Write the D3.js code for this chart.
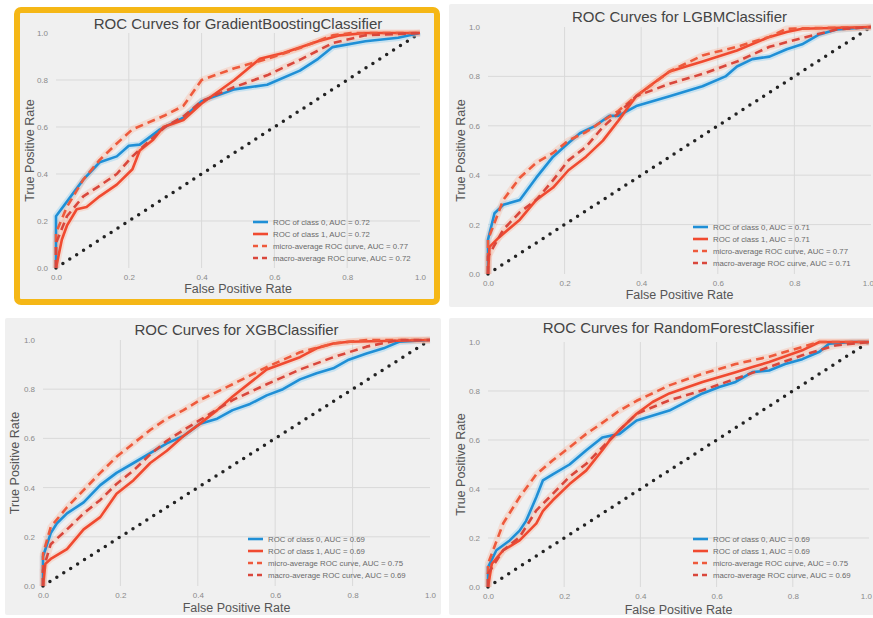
<!DOCTYPE html>
<html>
<head>
<meta charset="utf-8">
<script src="https://cdn.jsdelivr.net/npm/d3@7"></script>
<style>
  body { margin: 0; background: #fff; }
  svg { display: block; font-family: "Liberation Sans", Arial, sans-serif; }
</style>
</head>
<body>
<div id="chart"></div>
<script>
// tick labels shared by all four plots
var ticks = [0, 0.2, 0.4, 0.6, 0.8, 1.0];

// [false positive rate, true positive rate]
var gbClass0 = [[0,0],[0,0.22],[0.075,0.376],[0.12,0.45],[0.167,0.475],[0.2,0.52],[0.23,0.525],[0.286,0.59],[0.35,0.64],[0.4,0.71],[0.49,0.76],[0.58,0.78],[0.67,0.84],[0.72,0.89],[0.76,0.94],[0.85,0.965],[0.94,0.98],[1,1]];
var gbClass1 = [[0,0],[0.016,0.12],[0.03,0.18],[0.057,0.25],[0.084,0.26],[0.12,0.305],[0.167,0.355],[0.21,0.42],[0.23,0.5],[0.267,0.546],[0.295,0.6],[0.35,0.63],[0.4,0.7],[0.49,0.8],[0.56,0.89],[0.625,0.915],[0.72,0.965],[0.78,0.99],[0.85,1],[1,1]];
var gbMicro = [[0,0],[0,0.15],[0.03,0.26],[0.075,0.376],[0.12,0.46],[0.167,0.53],[0.21,0.59],[0.3,0.65],[0.35,0.69],[0.4,0.8],[0.49,0.85],[0.58,0.89],[0.67,0.936],[0.76,0.99],[0.81,1],[1,1]];
var gbMacro = [[0,0],[0,0.106],[0.03,0.22],[0.075,0.305],[0.12,0.35],[0.167,0.4],[0.21,0.475],[0.26,0.546],[0.3,0.6],[0.35,0.645],[0.4,0.71],[0.49,0.77],[0.58,0.82],[0.67,0.886],[0.76,0.957],[0.85,0.99],[1,1]];

var lgClass0 = [[0,0],[0,0.139],[0.017,0.246],[0.04,0.28],[0.083,0.3],[0.126,0.39],[0.17,0.475],[0.21,0.53],[0.24,0.57],[0.28,0.6],[0.317,0.64],[0.34,0.64],[0.387,0.68],[0.474,0.72],[0.56,0.76],[0.62,0.8],[0.65,0.84],[0.69,0.87],[0.735,0.88],[0.78,0.91],[0.82,0.93],[0.865,0.97],[0.91,0.99],[1,1]];
var lgClass1 = [[0,0],[0.004,0.11],[0.03,0.15],[0.083,0.22],[0.126,0.3],[0.17,0.35],[0.21,0.42],[0.256,0.475],[0.3,0.54],[0.34,0.62],[0.387,0.72],[0.43,0.77],[0.474,0.82],[0.56,0.86],[0.65,0.905],[0.735,0.96],[0.78,0.98],[0.82,0.993],[1,1]];
var lgMicro = [[0,0],[0,0.139],[0.04,0.3],[0.083,0.39],[0.126,0.45],[0.17,0.49],[0.21,0.54],[0.256,0.575],[0.3,0.62],[0.34,0.66],[0.387,0.72],[0.474,0.82],[0.56,0.885],[0.65,0.92],[0.735,0.96],[0.78,0.993],[1,1]];
var lgMacro = [[0,0],[0,0.07],[0.04,0.18],[0.083,0.25],[0.126,0.3],[0.17,0.38],[0.21,0.46],[0.256,0.515],[0.3,0.595],[0.34,0.65],[0.387,0.72],[0.474,0.77],[0.56,0.81],[0.65,0.86],[0.735,0.92],[0.82,0.955],[0.91,0.99],[1,1]];

var xgClass0 = [[0,0],[0,0.12],[0.02,0.215],[0.036,0.255],[0.062,0.295],[0.105,0.34],[0.148,0.41],[0.19,0.46],[0.234,0.5],[0.277,0.54],[0.32,0.58],[0.363,0.61],[0.406,0.66],[0.45,0.68],[0.49,0.715],[0.535,0.74],[0.578,0.775],[0.62,0.8],[0.664,0.84],[0.707,0.865],[0.75,0.885],[0.79,0.92],[0.836,0.945],[0.88,0.966],[0.92,0.993],[1,1]];
var xgClass1 = [[0,0],[0.006,0.09],[0.02,0.11],[0.062,0.15],[0.105,0.23],[0.148,0.28],[0.19,0.375],[0.234,0.43],[0.277,0.5],[0.32,0.55],[0.363,0.61],[0.406,0.66],[0.45,0.715],[0.49,0.77],[0.578,0.88],[0.664,0.93],[0.707,0.966],[0.75,0.986],[0.79,0.993],[1,1]];
var xgMicro = [[0,0],[0,0.13],[0.02,0.24],[0.062,0.32],[0.105,0.39],[0.148,0.46],[0.19,0.525],[0.234,0.58],[0.277,0.634],[0.32,0.68],[0.363,0.715],[0.406,0.756],[0.49,0.82],[0.578,0.89],[0.664,0.95],[0.75,0.986],[0.836,1],[1,1]];
var xgMacro = [[0,0],[0,0.065],[0.02,0.17],[0.062,0.23],[0.105,0.295],[0.148,0.35],[0.19,0.415],[0.234,0.47],[0.277,0.535],[0.32,0.59],[0.363,0.634],[0.406,0.675],[0.49,0.756],[0.578,0.82],[0.664,0.88],[0.75,0.93],[0.836,0.973],[0.92,1],[1,1]];

var rfClass0 = [[0,0],[0,0.08],[0.022,0.15],[0.057,0.19],[0.083,0.23],[0.1,0.27],[0.127,0.367],[0.144,0.435],[0.17,0.46],[0.214,0.5],[0.258,0.558],[0.3,0.61],[0.345,0.625],[0.39,0.68],[0.476,0.72],[0.563,0.79],[0.607,0.816],[0.65,0.837],[0.694,0.877],[0.738,0.884],[0.78,0.91],[0.825,0.93],[0.87,0.96],[0.895,0.993],[0.956,1],[1,1]];
var rfClass1 = [[0,0],[0.01,0.095],[0.04,0.15],[0.083,0.19],[0.127,0.26],[0.144,0.31],[0.17,0.354],[0.214,0.42],[0.258,0.476],[0.3,0.558],[0.32,0.6],[0.345,0.64],[0.39,0.707],[0.432,0.755],[0.476,0.79],[0.563,0.837],[0.65,0.877],[0.694,0.898],[0.738,0.918],[0.825,0.966],[0.87,1],[1,1]];
var rfMicro = [[0,0],[0,0.095],[0.04,0.26],[0.083,0.367],[0.127,0.46],[0.17,0.517],[0.214,0.57],[0.258,0.625],[0.3,0.67],[0.345,0.72],[0.39,0.76],[0.476,0.823],[0.563,0.87],[0.65,0.91],[0.738,0.94],[0.825,0.98],[0.87,1],[1,1]];
var rfMacro = [[0,0],[0,0.054],[0.04,0.15],[0.083,0.204],[0.127,0.313],[0.17,0.38],[0.214,0.45],[0.258,0.503],[0.3,0.57],[0.345,0.64],[0.39,0.707],[0.476,0.762],[0.563,0.803],[0.65,0.85],[0.738,0.898],[0.825,0.946],[0.912,0.986],[1,1]];

var models = ["GradientBoostingClassifier", "LGBMClassifier", "XGBClassifier", "RandomForestClassifier"];
var aucClass0 = ["0.72", "0.71", "0.69", "0.69"];
var aucClass1 = ["0.72", "0.71", "0.69", "0.69"];
var aucMicro = ["0.77", "0.77", "0.75", "0.75"];
var aucMacro = ["0.72", "0.71", "0.69", "0.69"];
var curves = [
  [gbClass0, gbClass1, gbMicro, gbMacro],
  [lgClass0, lgClass1, lgMicro, lgMacro],
  [xgClass0, xgClass1, xgMicro, xgMacro],
  [rfClass0, rfClass1, rfMicro, rfMacro]
];

// layout of each panel (frame + plot area)
var layout = [
  { bx: 17, by: 10, bw: 420, bh: 292, x0: 56, x1: 420, y0: 268, y1: 33, ty: 29, lx: 30, ly: 293, legX: 253, legY: 222, border: true },
  { bx: 449, by: 4, bw: 430, bh: 303, x0: 488, x1: 871, y0: 274, y1: 27, ty: 22, lx: 461, ly: 299, legX: 693, legY: 227 },
  { bx: 5, by: 318, bw: 436, bh: 297, x0: 43, x1: 430, y0: 586, y1: 340, ty: 335, lx: 15, ly: 612, legX: 248, legY: 539 },
  { bx: 449, by: 318, bw: 430, bh: 297, x0: 488, x1: 869, y0: 587, y1: 342, ty: 333, lx: 461, ly: 614, legX: 693, legY: 539 }
];

var styles = [
  { color: "#1f8fd6", dash: null, w: 2.6 },
  { color: "#f04a30", dash: null, w: 2.6 },
  { color: "#ee5a3c", dash: "8,5", w: 2.6 },
  { color: "#d9473c", dash: "8,5", w: 2.6 }
];

var svg = d3.select("#chart").append("svg")
  .attr("width", 873)
  .attr("height", 618);

models.forEach(function(name, i) {
  var L = layout[i];
  var g = svg.append("g");

  g.append("rect")
    .attr("x", L.bx).attr("y", L.by)
    .attr("width", L.bw).attr("height", L.bh)
    .attr("rx", L.border ? 4 : 2)
    .attr("fill", "#f0f0f0")
    .attr("stroke", L.border ? "#f5b716" : "none")
    .attr("stroke-width", L.border ? 6 : 0);

  var x = d3.scaleLinear().domain([0, 1]).range([L.x0, L.x1]);
  var y = d3.scaleLinear().domain([0, 1]).range([L.y0, L.y1]);

  // grid
  g.append("g").selectAll("line")
    .data(ticks.slice(1, 5))
    .join("line")
    .attr("x1", function(d) { return x(d); }).attr("x2", function(d) { return x(d); })
    .attr("y1", y(1)).attr("y2", y(0))
    .attr("stroke", "#d9d9d9").attr("stroke-width", 1);
  g.append("g").selectAll("line")
    .data(ticks.slice(1, 5))
    .join("line")
    .attr("x1", x(0)).attr("x2", x(1))
    .attr("y1", function(d) { return y(d); }).attr("y2", function(d) { return y(d); })
    .attr("stroke", "#d9d9d9").attr("stroke-width", 1);

  // axes: labels only, no domain line or ticks
  var ax = g.append("g")
    .attr("transform", "translate(0," + (L.y0 + 3) + ")")
    .call(d3.axisBottom(x).tickValues(ticks).tickFormat(d3.format(".1f")).tickSize(0));
  var ay = g.append("g")
    .attr("transform", "translate(" + (L.x0 - 5) + ",0)")
    .call(d3.axisLeft(y).tickValues(ticks).tickFormat(d3.format(".1f")).tickSize(0));
  [ax, ay].forEach(function(a) {
    a.select(".domain").remove();
    a.selectAll("text")
      .attr("fill", "#8a8a8a")
      .style("font-size", "8px")
      .style("font-family", "Liberation Sans, Arial, sans-serif");
  });
  // the right-hand plots touch the window edge: keep the last label inside
  if (L.x1 > 860) {
    ax.selectAll("text").filter(function(d) { return d === 1; })
      .attr("text-anchor", "end").attr("dx", "0.3em");
  }

  // diagonal
  g.append("path")
    .datum([[0, 0], [1, 1]])
    .attr("fill", "none")
    .attr("stroke", "#222")
    .attr("stroke-width", 3.5)
    .attr("stroke-linecap", "round")
    .attr("stroke-dasharray", "0,8.2")
    .attr("d", d3.line().x(function(d) { return x(d[0]); }).y(function(d) { return y(d[1]); }));

  var line = d3.line()
    .x(function(d) { return x(d[0]); })
    .y(function(d) { return y(d[1]); });

  // faint glow under the curves
  curves[i].forEach(function(c, k) {
    g.append("path")
      .datum(c)
      .attr("fill", "none")
      .attr("stroke", k === 0 ? "#7fc8f0" : "#f9b59a")
      .attr("stroke-opacity", 0.35)
      .attr("stroke-width", 6.5)
      .attr("stroke-linejoin", "round")
      .attr("d", line);
  });

  curves[i].forEach(function(c, k) {
    var s = styles[k];
    g.append("path")
      .datum(c)
      .attr("fill", "none")
      .attr("stroke", s.color)
      .attr("stroke-width", s.w)
      .attr("stroke-linejoin", "round")
      .attr("stroke-dasharray", s.dash)
      .attr("d", line);
  });

  // legend
  var labels = [
    "ROC of class 0, AUC = " + aucClass0[i],
    "ROC of class 1, AUC = " + aucClass1[i],
    "micro-average ROC curve, AUC = " + aucMicro[i],
    "macro-average ROC curve, AUC = " + aucMacro[i]
  ];
  var leg = g.append("g");
  labels.forEach(function(t, k) {
    var ry = L.legY + k * 12;
    leg.append("line")
      .attr("x1", L.legX).attr("x2", L.legX + 15)
      .attr("y1", ry).attr("y2", ry)
      .attr("stroke", styles[k].color)
      .attr("stroke-width", 2.6)
      .attr("stroke-dasharray", styles[k].dash ? "5,4" : null);
    leg.append("text")
      .attr("x", L.legX + 20).attr("y", ry + 2.8)
      .attr("fill", "#6a6a6a")
      .style("font-size", "7.8px")
      .text(t);
  });

  // titles
  g.append("text")
    .attr("x", (L.x0 + L.x1) / 2).attr("y", L.ty)
    .attr("text-anchor", "middle")
    .attr("fill", "#444")
    .style("font-size", "15px")
    .text("ROC Curves for " + name);
  g.append("text")
    .attr("x", (L.x0 + L.x1) / 2).attr("y", L.ly)
    .attr("text-anchor", "middle")
    .attr("fill", "#555")
    .style("font-size", "12.5px")
    .text("False Positive Rate");
  g.append("text")
    .attr("transform", "translate(" + L.lx + "," + ((L.y0 + L.y1) / 2) + ") rotate(-90)")
    .attr("text-anchor", "middle")
    .attr("dy", "0.35em")
    .attr("fill", "#555")
    .style("font-size", "12.5px")
    .text("True Positive Rate");
});
</script>
</body>
</html>
